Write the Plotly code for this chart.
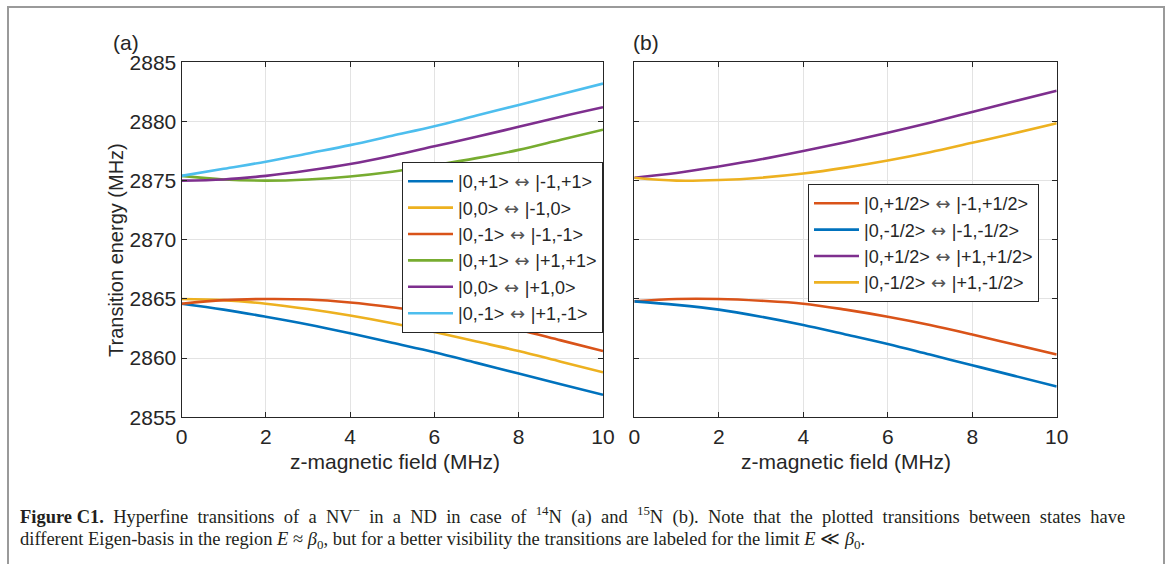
import plotly.graph_objects as go

W, H = 1168, 564

# ---- data ----
field = [0, 1, 2, 3, 4, 5, 6, 7, 8, 9, 10]

ARW = "<span style='font-family:DejaVu Sans;color:#555555'>\u00a0↔\u00a0</span>"

# panel (a): 14N
a_labels = ["|0,+1>" + ARW + "|-1,+1>", "|0,0>" + ARW + "|-1,0>", "|0,-1>" + ARW + "|-1,-1>",
            "|0,+1>" + ARW + "|+1,+1>", "|0,0>" + ARW + "|+1,0>", "|0,-1>" + ARW + "|+1,-1>"]
a_blue = [2864.6, 2864.1, 2863.5, 2862.85, 2862.1, 2861.3, 2860.5, 2859.6, 2858.7, 2857.8, 2856.9]
a_yellow = [2865.0, 2864.9, 2864.6, 2864.15, 2863.6, 2862.95, 2862.2, 2861.4, 2860.6, 2859.7, 2858.8]
a_orange = [2864.6, 2864.9, 2865.0, 2864.95, 2864.7, 2864.3, 2863.8, 2863.2, 2862.4, 2861.5, 2860.6]
a_green = [2875.4, 2875.1, 2875.0, 2875.1, 2875.35, 2875.75, 2876.3, 2876.9, 2877.6, 2878.45, 2879.3]
a_purple = [2875.0, 2875.1, 2875.4, 2875.85, 2876.4, 2877.1, 2877.9, 2878.7, 2879.55, 2880.4, 2881.2]
a_cyan = [2875.4, 2876.0, 2876.6, 2877.3, 2878.0, 2878.8, 2879.6, 2880.5, 2881.4, 2882.3, 2883.2]

# panel (b): 15N
b_labels = ["|0,+1/2>" + ARW + "|-1,+1/2>", "|0,-1/2>" + ARW + "|-1,-1/2>",
            "|0,+1/2>" + ARW + "|+1,+1/2>", "|0,-1/2>" + ARW + "|+1,-1/2>"]
b_orange = [2864.8, 2865.0, 2865.0, 2864.85, 2864.6, 2864.1, 2863.5, 2862.8, 2862.0, 2861.15, 2860.3]
b_blue = [2864.8, 2864.5, 2864.1, 2863.5, 2862.8, 2862.0, 2861.2, 2860.3, 2859.4, 2858.5, 2857.6]
b_purple = [2875.25, 2875.65, 2876.2, 2876.8, 2877.5, 2878.25, 2879.05, 2879.9, 2880.8, 2881.7, 2882.6]
b_yellow = [2875.25, 2875.0, 2875.05, 2875.25, 2875.6, 2876.1, 2876.7, 2877.4, 2878.2, 2879.0, 2879.85]

x_ticks = [0, 2, 4, 6, 8, 10]
y_ticks = [2855, 2860, 2865, 2870, 2875, 2880, 2885]

C_BLUE, C_ORANGE, C_YELLOW = "#0072BD", "#D95319", "#EDB120"
C_PURPLE, C_GREEN, C_CYAN = "#7E2F8E", "#77AC30", "#4DBEEE"

fig = go.Figure()

def add(x, y, name, color, xa, ya, legend):
    fig.add_trace(go.Scatter(x=x, y=y, name=name, mode="lines",
                             line=dict(color=color, width=2.6, shape="spline"),
                             xaxis=xa, yaxis=ya, legend=legend))

a_series = [a_blue, a_yellow, a_orange, a_green, a_purple, a_cyan]
a_colors = [C_BLUE, C_YELLOW, C_ORANGE, C_GREEN, C_PURPLE, C_CYAN]
for s, c, n in zip(a_series, a_colors, a_labels):
    add(field, s, n, c, "x", "y", "legend")

b_series = [b_orange, b_blue, b_purple, b_yellow]
b_colors = [C_ORANGE, C_BLUE, C_PURPLE, C_YELLOW]
for s, c, n in zip(b_series, b_colors, b_labels):
    add(field, s, n, c, "x2", "y2", "legend2")

def px_x(p):
    return p / W

def px_y(p):
    return 1 - p / H

SANS = "Liberation Sans, Arial, sans-serif"
axis_font = dict(family=SANS, size=21, color="#262626")
common_x = dict(range=[0, 10], tickvals=x_ticks, ticks="inside", ticklen=5, tickcolor="#262626",
                showline=True, linecolor="#262626", linewidth=1, mirror="ticks",
                showgrid=True, gridcolor="#e3e3e3", gridwidth=1, zeroline=False,
                tickfont=axis_font, automargin=False)
common_y = dict(range=[2855, 2885], tickvals=y_ticks, ticks="inside", ticklen=5, tickcolor="#262626",
                showline=True, linecolor="#262626", linewidth=1, mirror="ticks",
                showgrid=True, gridcolor="#e3e3e3", gridwidth=1, zeroline=False,
                tickfont=axis_font, automargin=False)

ytop, ybot = px_y(62.3), px_y(417.3)
leg_font = dict(family=SANS, size=18, color="#262626")
fig.update_layout(
    width=W, height=H, autosize=False,
    margin=dict(l=0, r=0, t=0, b=0, pad=0),
    paper_bgcolor="white", plot_bgcolor="white",
    xaxis=dict(common_x, domain=[px_x(181.5), px_x(603)], anchor="y"),
    yaxis=dict(common_y, domain=[ybot, ytop], anchor="x"),
    xaxis2=dict(common_x, domain=[px_x(634.3), px_x(1056.7)], anchor="y2"),
    yaxis2=dict(common_y, domain=[ybot, ytop], anchor="x2", showticklabels=False),
    legend=dict(x=px_x(402), y=px_y(162), xanchor="left", yanchor="top",
                bgcolor="white", bordercolor="#262626", borderwidth=1,
                font=leg_font, tracegroupgap=0, itemwidth=45),
    legend2=dict(x=px_x(808), y=px_y(184), xanchor="left", yanchor="top",
                 bgcolor="white", bordercolor="#262626", borderwidth=1,
                 font=leg_font, tracegroupgap=0, itemwidth=45),
    showlegend=True,
)

ann_font = dict(family=SANS, size=21, color="#262626")
anns = [
    dict(text="(a)", x=px_x(111), y=px_y(42), xanchor="left", yanchor="middle", font=ann_font),
    dict(text="(b)", x=px_x(631), y=px_y(42), xanchor="left", yanchor="middle", font=ann_font),
    dict(text="z-magnetic field (MHz)", x=px_x(395), y=px_y(461), xanchor="center", yanchor="middle", font=ann_font),
    dict(text="z-magnetic field (MHz)", x=px_x(846), y=px_y(461), xanchor="center", yanchor="middle", font=ann_font),
    dict(text="Transition energy (MHz)", x=px_x(116), y=px_y(250), xanchor="center", yanchor="middle",
         textangle=-90, font=dict(family=SANS, size=20, color="#262626")),
]
NB = " \u00a0"
cap_font = dict(family="Liberation Serif, Times New Roman, serif", size=18.5, color="#231f20")
line1 = ("<b>Figure C1.</b> Hyperfine transitions of a NV<sup>−</sup> in a ND in case of "
         "<sup>14</sup>N (a) and <sup>15</sup>N (b). Note that the plotted transitions between states have")
line1 = line1.replace("<b>Figure C1.</b> ", "<b>Figure\u00a0C1.</b>" + NB).replace(" ", NB).replace("\u00a0\u00a0", "\u00a0")
anns.append(dict(text=line1, x=px_x(18), y=px_y(515), xanchor="left", yanchor="middle", font=cap_font))
anns.append(dict(text="different Eigen-basis in the region <i>E</i> ≈ <i>β</i><sub>0</sub>, but for a better "
                      "visibility the transitions are labeled for the limit <i>E</i> ≪ <i>β</i><sub>0</sub>.",
                 x=px_x(18), y=px_y(540), xanchor="left", yanchor="middle", font=cap_font))
for a in anns:
    a.update(xref="paper", yref="paper", showarrow=False)
fig.update_layout(annotations=anns)

# outer frame
fig.add_shape(type="rect", xref="paper", yref="paper",
              x0=px_x(8), x1=px_x(1164), y0=px_y(575), y1=px_y(7),
              line=dict(color="#9a9a9a", width=2), fillcolor="rgba(0,0,0,0)", layer="below")

fig.write_html("out.html", default_width="1168px", default_height="564px",
               config={"responsive": False},
               post_script="document.body.style.margin='0';document.body.style.padding='0';"
                           "document.documentElement.style.overflow='hidden';")
